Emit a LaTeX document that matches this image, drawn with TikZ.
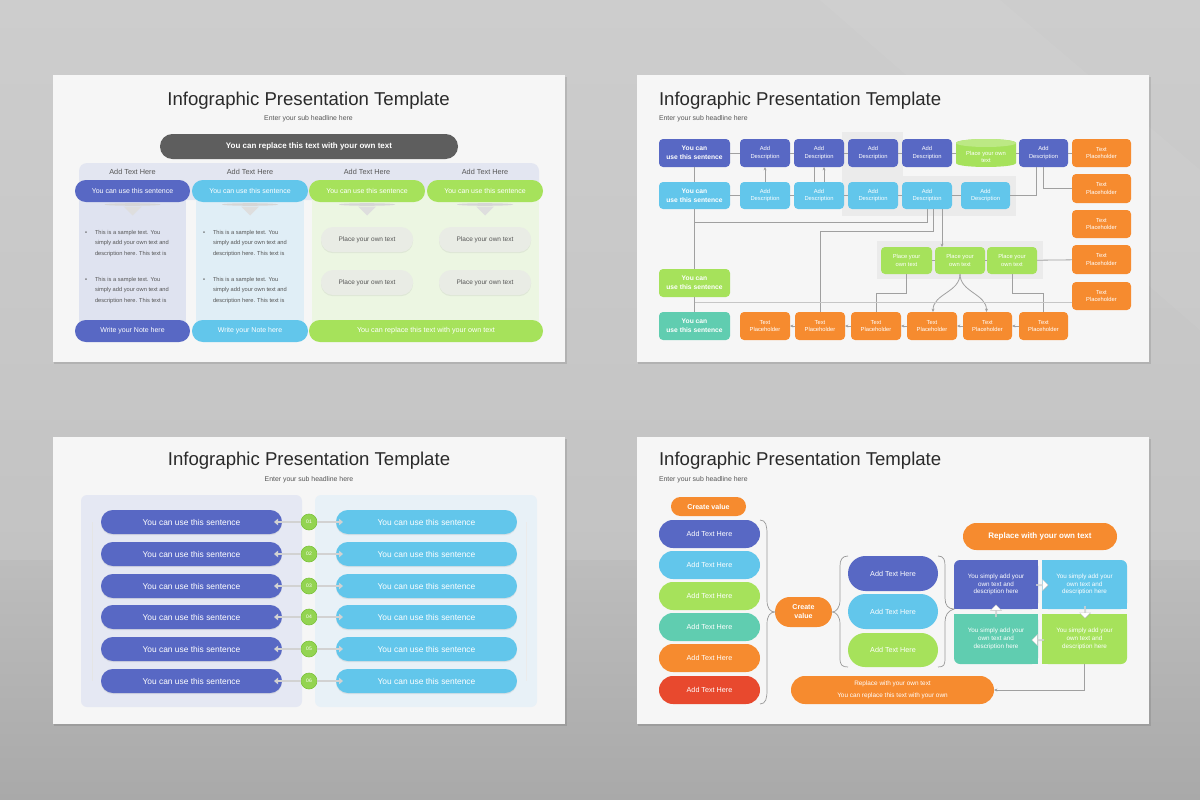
\documentclass[tikz,border=0pt]{standalone}
\usepackage{fontspec}
\setmainfont{Liberation Sans}
\usetikzlibrary{shapes.geometric,shapes.arrows,arrows.meta,shadows,calc}
\definecolor{indigo}{HTML}{5868C4}
\definecolor{sky}{HTML}{62C6EB}
\definecolor{lime}{HTML}{A6E25B}
\definecolor{tealc}{HTML}{60CDB0}
\definecolor{orng}{HTML}{F68B2F}
\definecolor{redd}{HTML}{E8492E}
\definecolor{darkp}{HTML}{5E5E5E}
\definecolor{slidebg}{HTML}{F6F6F6}
\definecolor{txtgray}{HTML}{555555}
\definecolor{titlec}{HTML}{2A2A2A}
\definecolor{c1bg}{HTML}{DFE3F0}
\definecolor{c2bg}{HTML}{E0EEF6}
\definecolor{c3bg}{HTML}{ECF6E2}
\definecolor{hdrbg}{HTML}{E3E6F1}
\definecolor{connc}{HTML}{A0A0A0}
\definecolor{bkd}{HTML}{EBEBEB}
\definecolor{gpill}{HTML}{E9ECE5}
\definecolor{numg}{HTML}{93D451}
\definecolor{numgd}{HTML}{7CC23C}
\definecolor{dblc}{HTML}{D2D2D2}
\definecolor{p3a}{HTML}{E5E8F3}
\definecolor{p3b}{HTML}{E8F1F7}
\definecolor{bgA}{HTML}{CDCDCD}
\definecolor{bgB}{HTML}{C3C3C3}
\definecolor{bgC}{HTML}{BDBDBD}
\definecolor{bgD}{HTML}{A9A9A9}
\newcommand\fs[2]{\fontsize{#1}{#2}\selectfont}
\newcommand\bx[7]{\node[#6, minimum width={(#4)-(#2)}, minimum height={(#5)-(#3)}] (#1) at ({((#2)+(#4))/2},{((#3)+(#5))/2}) {#7};}
\tikzset{
  title/.style={font=\fs{18.6}{22}, text=titlec},
  subh/.style={font=\fs{6.9}{8}, text=txtgray},
  pillS/.style={fill=#1, rounded corners=10.9pt, text=white, font=\fs{7}{8}},
  gpillS/.style={fill=gpill, rounded corners=12pt, text=txtgray, font=\fs{6.5}{8}, drop shadow={opacity=0.12, shadow xshift=0pt, shadow yshift=-1.2pt}},
  hdrtxt/.style={font=\fs{7.3}{8}, text=txtgray},
  bullt/.style={font=\fs{5.7}{7}, text=txtgray},
  fbox/.style={fill=#1, rounded corners=4pt, text=white, align=center, font=\fs{5.8}{7.2}},
  fboxB/.style={fill=#1, rounded corners=4pt, text=white, align=center, font=\bfseries\fs{6.7}{8.7}},
  conn/.style={draw=connc, line width=0.8pt},
  arr/.style={-{Stealth[length=3.4pt,width=3pt]}},
  pill3/.style={fill=#1, rounded corners=11.9pt, text=white, font=\fs{8.4}{9}, drop shadow={opacity=0.15, shadow xshift=0pt, shadow yshift=-1.2pt}},
  numc/.style={circle, fill=numg, draw=numgd, line width=0.6pt, minimum size=16pt, text=white, font=\fs{5}{6}},
  dbl/.style={draw=dblc, line width=2.4pt, -{Triangle[length=4pt,width=6.5pt]}},
  pill4/.style={fill=#1, rounded corners=13.9pt, text=white, font=\fs{7.2}{8}},
  qtxt/.style={text=white, align=center, font=\fs{6.3}{7.8}},
  brc/.style={draw=gray!80, line width=0.7pt},
  qarrow/.style={single arrow, fill=white, draw=gray!40, line width=0.4pt, minimum height=12pt, minimum width=11pt, single arrow head extend=2.5pt, drop shadow={opacity=0.22, shadow xshift=0.6pt, shadow yshift=-0.6pt}},
}
\begin{document}
\begin{tikzpicture}[x=1pt,y=-1pt, every node/.style={inner sep=0pt, outer sep=0pt}]
\useasboundingbox (0,0) rectangle (1200,800);
% background
\shade[top color=bgA, bottom color=bgB] (0,0) rectangle (1200,560);
\shade[top color=bgC, bottom color=bgD] (0,560) rectangle (1200,800);
\fill[white, opacity=0.05] (820,0) -- (1000,0) -- (1200,170) -- (1200,330) -- cycle;
% slides
\foreach \X/\Y in {53/75,637/75,53/437,637/437}{
  \fill[black,opacity=0.10] (\X+1,\Y+2) rectangle (\X+514,\Y+289);
  \fill[slidebg] (\X,\Y) rectangle (\X+512,\Y+287);
}
%% ================= SLIDE 1 =================
\node[title, anchor=base] (T1) at (308.5,105) {Infographic Presentation Template};
\node[subh, anchor=base] (S1) at (308.5,120) {Enter your sub headline here};
\bx{DP}{160}{134}{458}{159}{fill=darkp, rounded corners=12.4pt, text=white, font=\bfseries\fs{8}{9}}{You can replace this text with your own text}
\fill[hdrbg, rounded corners=8pt] (79,163) rectangle (539,200);
\fill[c1bg] (79,190) rectangle (186,331);
\fill[c2bg] (196,190) rectangle (304,331);
\fill[c3bg] (312,190) rectangle (539,331);
\node[hdrtxt] (H1) at (132.5,172) {Add Text Here};
\node[hdrtxt] (H2) at (250,172) {Add Text Here};
\node[hdrtxt] (H3) at (367,172) {Add Text Here};
\node[hdrtxt] (H4) at (485,172) {Add Text Here};
\bx{P1}{75}{180}{190}{202}{pillS=indigo}{You can use this sentence}
\bx{P2}{192}{180}{308}{202}{pillS=sky}{You can use this sentence}
\bx{P3}{309}{180}{425}{202}{pillS=lime}{You can use this sentence}
\bx{P4}{427}{180}{543}{202}{pillS=lime}{You can use this sentence}
\foreach \cx in {132.5,250,367,485}{
  \fill[black!16] (\cx,204.5) ellipse [x radius=28pt, y radius=1.3pt];
  \fill[black!13] (\cx-9,206.5) -- (\cx+9,206.5) -- (\cx,215.5) -- cycle;
}
\foreach \bxl/\tg in {86/a,204/b}{
  \foreach \yy/\g in {234/1,281/2}{
    \node[bullt, anchor=base] (bd-\tg\g) at (\bxl,\yy) {•};
    \node[bullt, anchor=base west] (bl-\tg\g-1) at (\bxl+9,\yy) {This is a sample text. You};
    \node[bullt, anchor=base west] (bl-\tg\g-2) at (\bxl+9,\yy+10.5) {simply add your own text and};
    \node[bullt, anchor=base west] (bl-\tg\g-3) at (\bxl+9,\yy+21) {description here. This text is};
  }
}
\bx{G1}{321}{227}{413}{252}{gpillS}{Place your own text}
\bx{G2}{321}{270}{413}{295}{gpillS}{Place your own text}
\bx{G3}{439}{227}{531}{252}{gpillS}{Place your own text}
\bx{G4}{439}{270}{531}{295}{gpillS}{Place your own text}
\bx{W1}{75}{320}{190}{342}{pillS=indigo}{Write your Note here}
\bx{W2}{192}{320}{308}{342}{pillS=sky}{Write your Note here}
\bx{W3}{309}{320}{543}{342}{pillS=lime, font=\fs{7.2}{8}}{You can replace this text with your own text}
%% ================= SLIDE 2 =================
\node[title, anchor=base west] (T2) at (659,105) {Infographic Presentation Template};
\node[subh, anchor=base west] (S2) at (659,120) {Enter your sub headline here};
\fill[bkd] (842,132) rectangle (903,176);
\fill[bkd] (842,176) rectangle (1016,216);
\fill[bkd] (877,241) rectangle (1043,279);
\coordinate (trk) at (694.5,222);
% row 1
\bx{A1}{659}{139}{730}{167}{fboxB=indigo}{You can\\use this sentence}
\bx{A2}{740}{139}{790}{167}{fbox=indigo}{Add\\Description}
\bx{A3}{794}{139}{844}{167}{fbox=indigo}{Add\\Description}
\bx{A4}{848}{139}{898}{167}{fbox=indigo}{Add\\Description}
\bx{A5}{902}{139}{952}{167}{fbox=indigo}{Add\\Description}
\fill[lime] (956,143) -- (956,163) .. controls (956,168.3) and (1016,168.3) .. (1016,163) -- (1016,143) .. controls (1016,137.7) and (956,137.7) .. (956,143) -- cycle;
\fill[lime!75!white] (986,143) ellipse [x radius=30pt, y radius=4pt];
\bx{CY}{956}{143}{1016}{171}{text=white, align=center, font=\fs{5.8}{7.2}}{Place your own\\text}
\bx{A6}{1019}{139}{1068}{167}{fbox=indigo}{Add\\Description}
\bx{O1}{1072}{139}{1131}{167}{fbox=orng}{Text\\Placeholder}
% row 2
\bx{B1}{659}{182}{730}{209}{fboxB=sky}{You can\\use this sentence}
\bx{B2}{740}{182}{790}{209}{fbox=sky}{Add\\Description}
\bx{B3}{794}{182}{844}{209}{fbox=sky}{Add\\Description}
\bx{B4}{848}{182}{898}{209}{fbox=sky}{Add\\Description}
\bx{B5}{902}{182}{952}{209}{fbox=sky}{Add\\Description}
\bx{B6}{961}{182}{1010}{209}{fbox=sky}{Add\\Description}
% right column
\bx{O2}{1072}{174}{1131}{203}{fbox=orng}{Text\\Placeholder}
\bx{O3}{1072}{210}{1131}{238}{fbox=orng}{Text\\Placeholder}
\bx{O4}{1072}{245}{1131}{274}{fbox=orng}{Text\\Placeholder}
\bx{O5}{1072}{282}{1131}{310}{fbox=orng}{Text\\Placeholder}
% green row
\bx{E1}{881}{247}{932}{274}{fbox=lime}{Place your\\own text}
\bx{E2}{935}{247}{985}{274}{fbox=lime}{Place your\\own text}
\bx{E3}{987}{247}{1037}{274}{fbox=lime}{Place your\\own text}
\bx{C1}{659}{269}{730}{297}{fboxB=lime}{You can\\use this sentence}
\bx{D1}{659}{312}{730}{340}{fboxB=tealc}{You can\\use this sentence}
% bottom row
\bx{F1}{740}{312}{790}{340}{fbox=orng}{Text\\Placeholder}
\bx{F2}{795}{312}{845}{340}{fbox=orng}{Text\\Placeholder}
\bx{F3}{851}{312}{901}{340}{fbox=orng}{Text\\Placeholder}
\bx{F4}{907}{312}{957}{340}{fbox=orng}{Text\\Placeholder}
\bx{F5}{963}{312}{1012}{340}{fbox=orng}{Text\\Placeholder}
\bx{F6}{1019}{312}{1068}{340}{fbox=orng}{Text\\Placeholder}
% connectors
\draw[conn] (A1) -- (A2); \draw[conn] (A2) -- (A3); \draw[conn] (A3) -- (A4);
\draw[conn] (A4) -- (A5); \draw[conn] (A5) -- (CY.west |- A5); \draw[conn] (CY.east |- A6) -- (A6); \draw[conn] (A6) -- (O1);
\draw[conn] (B1) -- (B2); \draw[conn] (B2) -- (B3); \draw[conn] (B3) -- (B4);
\draw[conn] (B4) -- (B5); \draw[conn] (B5) -- (B6);
\draw[conn] (A1) -- (B1); \draw[conn] (B1) -- (C1); \draw[conn] (C1) -- (D1);
\draw[conn,arr] (B2) -- (A2);
\draw[conn] ([xshift=-5pt]B3.north) -- ([xshift=-5pt]A3.south);
\draw[conn,arr] ([xshift=5pt]B3.north) -- ([xshift=5pt]A3.south);
\draw[conn] (A6.south) |- (O2.west);
\draw[conn] ([xshift=-7pt]A6.south) |- (B6.east);
\draw[conn] (B5.south) |- (trk);
\draw[conn] ([xshift=6pt]B5.south) |- (820,231) -- (F2.north);
\draw[conn,arr] ([xshift=15pt]B5.south) -- ([xshift=15pt]B5.south |- E2.north);
\draw[conn] (E1) -- (E2); \draw[conn] (E2) -- (E3);
\draw[conn] (E3) -- (O4);
\draw[conn] (E1.south) |- (876,293) -- (F3.north);
\draw[conn] (E3.south) |- (1043.5,293) -- (F6.north);
\draw[conn,arr] (E2.south) to[out=-90,in=90] ([xshift=1pt]F4.north);
\draw[conn,arr] (E2.south) to[out=-90,in=90] ([xshift=-1pt]F5.north);
\draw[draw=connc!60, line width=0.7pt] (694.5,302) -- (O5.west |- 0,302);
\draw[conn,arr] (F2) -- (F1); \draw[conn,arr] (F3) -- (F2); \draw[conn,arr] (F4) -- (F3);
\draw[conn,arr] (F5) -- (F4); \draw[conn,arr] (F6) -- (F5);
%% ================= SLIDE 3 =================
\node[title, anchor=base] (T3) at (309,465) {Infographic Presentation Template};
\node[subh, anchor=base] (S3) at (309,481) {Enter your sub headline here};
\fill[p3a, rounded corners=6pt] (81,495) rectangle (302,707);
\fill[p3b, rounded corners=6pt] (315,495) rectangle (537,707);
\draw[black!10, line width=0.5pt] (92,522) -- (92,681);
\draw[black!8, line width=0.5pt] (526,522) -- (526,681);
\foreach \i/\yy in {1/522,2/554,3/586,4/617,5/649,6/681}{
  \bx{L\i}{101}{\yy-12}{282}{\yy+12}{pill3=indigo}{You can use this sentence}
  \bx{R\i}{336}{\yy-12}{517}{\yy+12}{pill3=sky}{You can use this sentence}
  \node[numc] (N\i) at (309,\yy) {0\i};
  \draw[dbl] (N\i.west) -- ([xshift=-8pt]L\i.east);
  \draw[dbl] (N\i.east) -- ([xshift=7pt]R\i.west);
}
%% ================= SLIDE 4 =================
\node[title, anchor=base west] (T4) at (659,465) {Infographic Presentation Template};
\node[subh, anchor=base west] (S4) at (659,481) {Enter your sub headline here};
\bx{CV1}{671}{497}{746}{516}{fill=orng, rounded corners=9.4pt, text=white, font=\bfseries\fs{7.1}{8}}{Create value}
\bx{LL1}{659}{520}{760}{548}{pill4=indigo}{Add Text Here}
\bx{LL2}{659}{551}{760}{579}{pill4=sky}{Add Text Here}
\bx{LL3}{659}{582}{760}{610}{pill4=lime}{Add Text Here}
\bx{LL4}{659}{613}{760}{641}{pill4=tealc}{Add Text Here}
\bx{LL5}{659}{644}{760}{672}{pill4=orng}{Add Text Here}
\bx{LL6}{659}{676}{760}{704}{pill4=redd}{Add Text Here}
\bx{CV}{775}{597}{832}{627}{fill=orng, rounded corners=14.9pt, text=white, align=center, font=\bfseries\fs{7.1}{9}}{Create\\value}
\bx{M1}{848}{556}{938}{591}{pill4=indigo, rounded corners=17.4pt}{Add Text Here}
\bx{M2}{848}{594}{938}{629}{pill4=sky, rounded corners=17.4pt}{Add Text Here}
\bx{M3}{848}{633}{938}{667}{pill4=lime, rounded corners=16.9pt}{Add Text Here}
\draw[brc] (LL1.north east) .. controls (766,520) and (767,526) .. (767,534) -- (767,600) .. controls (767,608) and (770,612) .. (CV.west)
   .. controls (770,612) and (767,616) .. (767,624) -- (767,690) .. controls (767,698) and (766,704) .. (LL6.south east);
\draw[brc] (M1.north west) .. controls (842,556) and (840,560) .. (840,566) -- (840,600) .. controls (840,608) and (836,612) .. (CV.east)
   .. controls (836,612) and (840,616) .. (840,624) -- (840,658) .. controls (840,665) and (842,667) .. (M3.south west);
\bx{RT}{963}{523}{1117}{550}{fill=orng, rounded corners=13.4pt, text=white, font=\bfseries\fs{8}{9}}{Replace with your own text}
% quads
\fill[indigo, rounded corners=6pt] (954,560) rectangle (1038,609);
\fill[indigo] (1000,560) rectangle (1038,609); \fill[indigo] (954,585) rectangle (1038,609);
\fill[sky, rounded corners=6pt] (1042,560) rectangle (1127,609);
\fill[sky] (1042,560) rectangle (1090,609); \fill[sky] (1042,585) rectangle (1127,609);
\fill[tealc, rounded corners=6pt] (954,614) rectangle (1038,664);
\fill[tealc] (1000,614) rectangle (1038,664); \fill[tealc] (954,614) rectangle (1038,640);
\fill[lime, rounded corners=6pt] (1042,614) rectangle (1127,664);
\fill[lime] (1042,614) rectangle (1090,664); \fill[lime] (1042,614) rectangle (1127,640);
\bx{Q1}{954}{560}{1038}{609}{qtxt}{You simply add your\\own text and\\description here}
\bx{Q2}{1042}{560}{1127}{609}{qtxt}{You simply add your\\own text and\\description here}
\bx{Q3}{954}{614}{1038}{664}{qtxt}{You simply add your\\own text and\\description here}
\bx{Q4}{1042}{614}{1127}{664}{qtxt}{You simply add your\\own text and\\description here}
\draw[brc] (M1.north east) .. controls (944,556) and (945,560) .. (945,566) -- (945,598) .. controls (945,605) and (948,609) .. (Q1.south west)
   .. controls (948,611) and (945,615) .. (945,622) -- (945,658) .. controls (945,665) and (944,667) .. (M3.south east);
\node[qarrow, shape border rotate=0] (QA1) at (1042,585) {};
\node[qarrow, shape border rotate=270] (QA2) at (1085,612) {};
\node[qarrow, shape border rotate=180] (QA3) at (1038,640) {};
\node[qarrow, shape border rotate=90] (QA4) at (996,611) {};
\bx{BP}{791}{676}{994}{704}{fill=orng, rounded corners=13.9pt, text=white, align=center, font=\fs{6.4}{11.5}}{Replace with your own text\\You can replace this text with your own}
\draw[conn, line width=1pt, arr] (Q4.south) |- (BP.east);
\end{tikzpicture}
\end{document}
